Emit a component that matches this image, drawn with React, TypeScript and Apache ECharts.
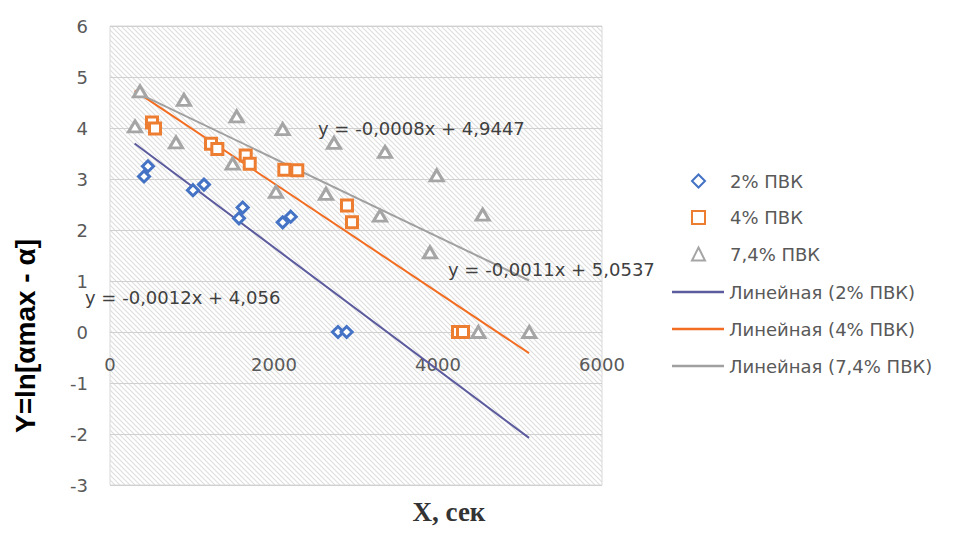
import React, { useEffect, useRef } from 'react';
import * as echarts from 'echarts';

// ---- data ----
const seriesNames = ['2% ПВК', '4% ПВК', '7,4% ПВК'];
const trendNames = ['Линейная (2% ПВК)', 'Линейная (4% ПВК)', 'Линейная (7,4% ПВК)'];

const x2 = [415, 463, 1012, 1146, 1573, 1618, 2106, 2204, 2780, 2886];
const y2 = [3.05, 3.25, 2.78, 2.89, 2.23, 2.44, 2.15, 2.26, 0, 0];

const x4 = [512, 549, 1232, 1309, 1655, 1704, 2126, 2284, 2890, 2951, 4244, 4305];
const y4 = [4.11, 3.99, 3.69, 3.59, 3.46, 3.3, 3.18, 3.17, 2.48, 2.15, 0, 0];

const x74 = [305, 366, 805, 902, 1496, 1545, 2024, 2106, 2634, 2732, 3293, 3354, 3902, 3984, 4492, 4545, 5113];
const y74 = [4.03, 4.72, 3.72, 4.55, 3.3, 4.23, 2.75, 3.98, 2.71, 3.71, 2.28, 3.53, 1.56, 3.07, 0, 2.3, 0];

const trendSlopes = [-0.0012, -0.00107, -0.00077];
const trendIntercepts = [4.056, 5.0537, 4.9447];
const trendRange = [300, 5110];
const equations = ['y = -0,0012x + 4,056', 'y = -0,0011x + 5,0537', 'y = -0,0008x + 4,9447'];

const xTitle = 'X, сек';
const yTitle = 'Y=ln[αmax - α]';

// ---- styles ----
const markerColors = ['#4472C4', '#ED7D31', '#A5A5A5'];
const trendColors = ['#5B5B9E', '#F26D21', '#A0A0A0'];
const symbols = ['diamond', 'rect', 'triangle'];
const symbolSizes: any[] = [11, 11, [13, 11]];
const FONT = "'DejaVu Sans', sans-serif";

const zip = (xs: number[], ys: number[]) => xs.map((x, i) => [x, ys[i]]);

const GRID_TOP = 26;
const GRID_H = 459;
const Y_MIN = -3;
const Y_MAX = 6;

export default function App() {
  const ref = useRef<HTMLDivElement>(null);
  useEffect(() => {
    if (!ref.current) return;
    const chart = echarts.init(ref.current, null, { renderer: 'svg' });

    const svg =
      "<svg xmlns='http://www.w3.org/2000/svg' width='5' height='5'>" +
      "<rect width='5' height='5' fill='white'/>" +
      "<path d='M0,0L5,5M-1,4L1,6M4,-1L6,1' stroke='#dedede' stroke-width='1.1'/></svg>";
    const hatch: any = {
      image: 'data:image/svg+xml;charset=utf-8,' + encodeURIComponent(svg),
      repeat: 'repeat',
      imageWidth: 5,
      imageHeight: 5,
    };

    const data = [zip(x2, y2), zip(x4, y4), zip(x74, y74)];

    const scatterSeries = seriesNames.map((name, i) => ({
      name,
      type: 'scatter',
      data: data[i],
      symbol: symbols[i],
      symbolSize: symbolSizes[i],
      itemStyle: { color: '#ffffff', borderColor: markerColors[i], borderWidth: 3, opacity: 1 },
      z: 3,
    }));

    const trendSeries = trendNames.map((name, i) => ({
      name,
      type: 'line',
      data: trendRange.map((x) => [x, trendIntercepts[i] + trendSlopes[i] * x]),
      symbol: 'none',
      lineStyle: { color: trendColors[i], width: 2 },
      itemStyle: { color: trendColors[i] },
      z: 2,
    }));

    const eqPos = [
      [85, 299],
      [448, 271],
      [318, 130],
    ];

    // distance from the grid bottom up to the y = 0 line (x axis crosses at 0)
    const zeroOffset = -(GRID_H * (0 - Y_MIN)) / (Y_MAX - Y_MIN);

    chart.setOption({
      animation: false,
      backgroundColor: '#ffffff',
      grid: {
        show: true,
        left: 110,
        top: GRID_TOP,
        width: 492,
        height: GRID_H,
        backgroundColor: hatch,
        borderColor: '#D9D9D9',
        borderWidth: 1,
      },
      xAxis: {
        type: 'value',
        min: 0,
        max: 6000,
        interval: 2000,
        position: 'bottom',
        offset: zeroOffset,
        axisLine: { show: true, onZero: false, lineStyle: { color: '#D0D0D0', width: 1 } },
        axisTick: { show: false },
        splitLine: { show: false },
        axisLabel: {
          margin: 23,
          color: '#595959',
          fontSize: 18,
          fontFamily: FONT,
          formatter: (v: number) => String(v),
        },
      },
      yAxis: {
        type: 'value',
        min: Y_MIN,
        max: Y_MAX,
        interval: 1,
        axisLine: { show: false },
        axisTick: { show: false },
        splitLine: { show: true, lineStyle: { color: '#D0D0D0', width: 1 } },
        axisLabel: {
          margin: 22,
          color: '#595959',
          fontSize: 18,
          fontFamily: FONT,
          formatter: (v: number) => String(v),
        },
      },
      legend: [
        {
          orient: 'vertical',
          left: 686,
          top: 166,
          itemWidth: 13,
          itemHeight: 13,
          itemGap: 16.5,
          textStyle: {
            color: '#595959',
            fontSize: 18,
            fontFamily: FONT,
            lineHeight: 20,
            padding: [0, 0, 0, 20],
          },
          data: seriesNames.map((n, i) => ({ name: n, icon: symbols[i] })),
        },
        {
          orient: 'vertical',
          left: 667,
          top: 277,
          itemWidth: 52,
          itemHeight: 2.5,
          itemGap: 17,
          textStyle: { color: '#595959', fontSize: 18, fontFamily: FONT, lineHeight: 20 },
          data: trendNames.map((n) => ({ name: n, icon: 'rect' })),
        },
      ],
      graphic: [
        ...equations.map((t, i) => ({
          type: 'text',
          left: eqPos[i][0],
          top: eqPos[i][1] - 11,
          z: 10,
          style: { text: t, fill: '#404040', font: `18px ${FONT}` },
        })),
        {
          type: 'text',
          x: 25,
          y: 336,
          rotation: Math.PI / 2,
          z: 10,
          style: {
            text: yTitle,
            fill: '#000000',
            font: "bold 28px 'Liberation Sans', Arial, sans-serif",
            align: 'center',
            verticalAlign: 'middle',
          },
        },
        {
          type: 'text',
          x: 449,
          y: 512,
          z: 10,
          style: {
            text: xTitle,
            fill: '#333333',
            font: "bold 27px 'Liberation Serif', 'Times New Roman', serif",
            align: 'center',
            verticalAlign: 'middle',
          },
        },
      ],
      series: [...scatterSeries, ...trendSeries],
    });

    return () => chart.dispose();
  }, []);

  return (
    <div
      ref={ref}
      style={{ position: 'fixed', left: 0, top: 0, width: 959, height: 534, background: '#fff' }}
    />
  );
}
